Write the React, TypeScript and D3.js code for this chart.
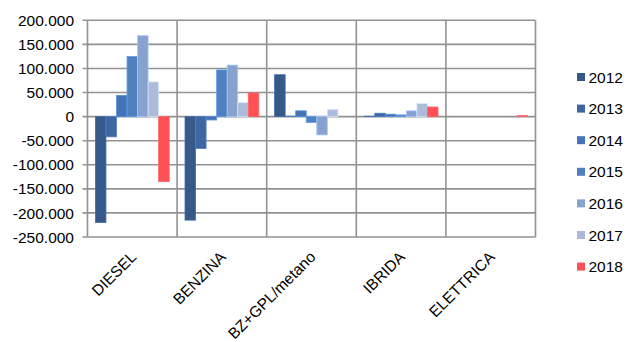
import React from "react";
import * as d3 from "d3";

const categories = ["DIESEL", "BENZINA", "BZ+GPL/metano", "IBRIDA", "ELETTRICA"];
const years = ["2012", "2013", "2014", "2015", "2016", "2017", "2018"];
const s2012 = [-220000, -215000, 87000, 800, 0];
const s2013 = [-42000, -66000, 1000, 7000, 0];
const s2014 = [44000, -7000, 12000, 5000, 0];
const s2015 = [125000, 97000, -12000, 3500, 0];
const s2016 = [168000, 107000, -38000, 12000, 0];
const s2017 = [72000, 29000, 15000, 27000, 0];
const s2018 = [-135000, 49000, 0, 20000, 2000];
const seriesValues = [s2012, s2013, s2014, s2015, s2016, s2017, s2018];
const yTicks = [-250000, -200000, -150000, -100000, -50000, 0, 50000, 100000, 150000, 200000];
const colors = ["#36598A", "#3E66A0", "#4673B5", "#4F81C0", "#88A2CF", "#ADBBDA", "#FF5055"];

const W = 627;
const H = 342;
const left = 87.5;
const right = 535.5;
const top = 20.3;
const bottom = 237;
const font = "'Liberation Sans', Arial, sans-serif";

function fmt(v: number) {
  const s = Math.abs(v).toFixed(0).replace(/\B(?=(\d{3})+(?!\d))/g, ".");
  return (v < 0 ? "-" : "") + (v === 0 ? "0" : s);
}

export default function App() {
  const x0 = d3.scaleBand<string>().domain(categories).range([left, right]).padding(0);
  const step = x0.step();
  const bw = step / 8.5;
  const gap = bw * 0.75;
  const x1 = d3.scaleBand<string>().domain(years).range([gap, step - gap]).padding(0);
  const y = d3.scaleLinear().domain([-250000, 200000]).range([bottom, top]);
  const grid = "#929292";

  return (
    <svg width={W} height={H} style={{ position: "absolute", left: 0, top: 0, background: "#fff" }}>
      <rect x={0} y={0} width={W} height={H} fill="#fff" />
      {yTicks.map((t) => (
        <line key={"h" + t} x1={left - 5} x2={right} y1={y(t)} y2={y(t)} stroke={grid} strokeWidth={1.6} />
      ))}
      {d3.range(categories.length + 1).map((i) => (
        <line key={"v" + i} x1={left + i * step} x2={left + i * step} y1={top} y2={bottom} stroke={grid} strokeWidth={1.6} />
      ))}
      {seriesValues.map((vals, si) =>
        vals.map((v, ci) => {
          if (v === 0) return null;
          const xx = (x0(categories[ci]) as number) + (x1(years[si]) as number);
          const y0 = y(0);
          const yv = y(v);
          return (
            <rect
              key={si + "-" + ci}
              x={xx}
              y={Math.min(y0, yv)}
              width={x1.bandwidth()}
              height={Math.abs(yv - y0)}
              fill={colors[si]}
              stroke={d3.color(colors[si])!.brighter(0.6).formatHex()}
              strokeWidth={0.8}
            />
          );
        })
      )}
      {yTicks.map((t) => (
        <text key={"yl" + t} x={74} y={y(t)} dy="0.36em" textAnchor="end" fontFamily={font} fontSize={15.5} fill="#000">
          {fmt(t)}
        </text>
      ))}
      {categories.map((c) => {
        const cx = (x0(c) as number) + step / 2 + 5;
        const cy = 258;
        return (
          <text key={"xl" + c} x={cx} y={cy} textAnchor="end" fontFamily={font} fontSize={15.5} fill="#000" transform={`rotate(-45 ${cx} ${cy})`}>
            {c}
          </text>
        );
      })}
      {years.map((yr, i) => {
        const cy = 77 + i * 31.6;
        return (
          <g key={"lg" + yr}>
            <rect x={577} y={cy - 4} width={8} height={8} fill={colors[i]} />
            <text x={588.5} y={cy} dy="0.36em" fontFamily={font} fontSize={15.5} fill="#000">
              {yr}
            </text>
          </g>
        );
      })}
    </svg>
  );
}
